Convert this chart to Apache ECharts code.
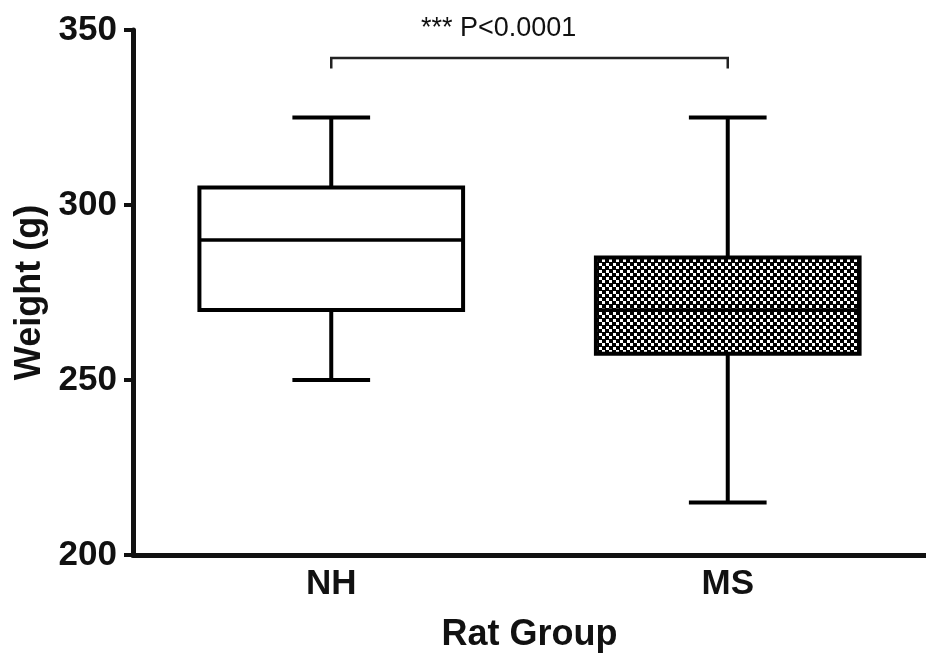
<!DOCTYPE html>
<html>
<head>
<meta charset="utf-8">
<title>Rat Group weight</title>
<script src="https://cdn.jsdelivr.net/npm/echarts@6/dist/echarts.min.js"></script>
</head>
<body style="margin:0; background:#fff;">
<div id="main" style="width: 926px; height: 667px;"></div>
<script type="text/javascript">

// data
var groups = ['NH', 'MS'];
// [min, q1, median, q3, max]
var nhBox = [250, 270, 290, 305, 325];
var msBox = [215, 257.5, 270, 285, 325];
var yTicks = { min: 200, max: 350, step: 50 };
var sigText = '*** P<0.0001';
var sigBracket = [342, 339]; // top, foot

var font = 'Liberation Sans, Arial, sans-serif';

// checker pattern for MS box
var pat = document.createElement('canvas');
pat.width = 7; pat.height = 7;
var pc = pat.getContext('2d');
pc.fillStyle = '#000';
pc.fillRect(0, 0, 7, 7);
pc.fillStyle = '#fff';
pc.fillRect(0, 0, 3, 3);
pc.fillRect(4, 4, 3, 3);

var boxData = [
  [0].concat(nhBox),
  [1].concat(msBox)
];

var chart = echarts.init(document.getElementById('main'));

function renderBox(params, api) {
  var idx = api.value(0);
  var pMin = api.coord([idx, api.value(1)]);
  var pQ1 = api.coord([idx, api.value(2)]);
  var pMed = api.coord([idx, api.value(3)]);
  var pQ3 = api.coord([idx, api.value(4)]);
  var pMax = api.coord([idx, api.value(5)]);
  var band = api.size([1, 0])[0];
  var bw = band * 0.665;
  var cw = band * 0.196;
  var x = pMed[0];
  var ln = { stroke: '#000', lineWidth: 4 };
  return {
    type: 'group',
    children: [
      { type: 'line', shape: { x1: x, y1: pMax[1], x2: x, y2: pQ3[1] }, style: ln },
      { type: 'line', shape: { x1: x, y1: pQ1[1], x2: x, y2: pMin[1] }, style: ln },
      { type: 'line', shape: { x1: x - cw / 2, y1: pMax[1], x2: x + cw / 2, y2: pMax[1] }, style: ln },
      { type: 'line', shape: { x1: x - cw / 2, y1: pMin[1], x2: x + cw / 2, y2: pMin[1] }, style: ln },
      {
        type: 'rect',
        shape: { x: x - bw / 2, y: pQ3[1], width: bw, height: pQ1[1] - pQ3[1] },
        style: {
          fill: idx === 1 ? { image: pat, repeat: 'repeat' } : '#fff',
          stroke: '#000', lineWidth: 4
        }
      },
      { type: 'line', shape: { x1: x - bw / 2, y1: pMed[1], x2: x + bw / 2, y2: pMed[1] }, style: { stroke: '#000', lineWidth: 3.5 } }
    ]
  };
}

function renderBracket(params, api) {
  var a = api.coord([0, sigBracket[1]]);
  var b = api.coord([0, sigBracket[0]]);
  var c = api.coord([1, sigBracket[0]]);
  var d = api.coord([1, sigBracket[1]]);
  return {
    type: 'polyline',
    shape: { points: [a, b, c, d] },
    style: { stroke: '#222', lineWidth: 2.5, fill: null }
  };
}

var option = {
  animation: false,
  title: {
    text: sigText,
    left: 416,
    top: 10,
    textStyle: { fontFamily: font, fontSize: 27, fontWeight: 'normal', color: '#111' }
  },
  grid: { left: 133, top: 30, width: 796, bottom: 112 },
  xAxis: {
    type: 'category',
    data: groups,
    name: 'Rat Group',
    nameLocation: 'middle',
    nameGap: 62,
    nameTextStyle: { fontFamily: font, fontSize: 36, fontWeight: 'bold', color: '#111' },
    axisLine: { lineStyle: { color: '#111', width: 5 } },
    axisTick: { alignWithLabel: true, length: 7, lineStyle: { color: '#111', width: 4 } },
    axisLabel: { fontFamily: font, fontSize: 35, fontWeight: 'bold', color: '#111', margin: 12 },
    splitLine: { show: false }
  },
  yAxis: {
    type: 'value',
    min: yTicks.min,
    max: yTicks.max,
    interval: yTicks.step,
    name: 'Weight (g)',
    nameLocation: 'middle',
    nameGap: 82,
    nameTextStyle: { fontFamily: font, fontSize: 36, fontWeight: 'bold', color: '#111' },
    axisLine: { show: true, lineStyle: { color: '#111', width: 5 } },
    axisTick: { show: true, length: 9, lineStyle: { color: '#111', width: 4 } },
    axisLabel: { fontFamily: font, fontSize: 35, fontWeight: 'bold', color: '#111', margin: 16 },
    splitLine: { show: false }
  },
  series: [
    {
      type: 'custom',
      renderItem: renderBox,
      data: boxData,
      encode: { x: 0, y: [1, 2, 3, 4, 5] }
    },
    {
      type: 'custom',
      renderItem: renderBracket,
      clip: false,
      data: [[0, sigBracket[0]]],
      encode: { x: 0, y: 1 }
    }
  ]
};

option && chart.setOption(option);
</script>
</body>
</html>
